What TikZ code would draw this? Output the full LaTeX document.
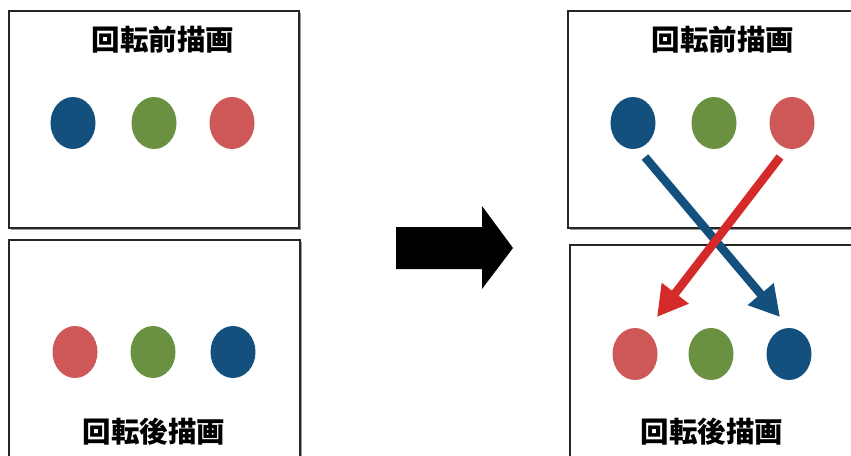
\documentclass[tikz,border=0pt]{standalone}
\usepackage{fontspec}
\usepackage{tikz}
\usepackage{xcolor}
\usetikzlibrary{positioning,arrows.meta,shapes,shadows}
\newfontfamily\cjk{Noto Sans CJK JP}

\definecolor{dotblue}{RGB}{19,80,126}
\definecolor{dotgreen}{RGB}{106,144,65}
\definecolor{dotred}{RGB}{206,87,87}
\definecolor{arrred}{RGB}{212,42,42}

\begin{document}
\begin{tikzpicture}[x=1pt, y=-1pt,
    panel/.style={rectangle, draw=black!85, line width=1.2pt, fill=white, inner sep=0pt,
      drop shadow={shadow xshift=2.2pt, shadow yshift=-2.2pt, fill=black!40, opacity=1}},
    dot/.style={ellipse, minimum width=45pt, minimum height=52pt, inner sep=0pt},
    caption/.style={font=\cjk\bfseries\fontsize{28.5}{31}\selectfont},
    swap/.style={line width=8.5pt, -{Triangle[width=32pt, length=30pt]}}]
        \useasboundingbox (0,0) rectangle (851,455);
        \clip (0,0) rectangle (851,455);

        % Draw the four panels
        \node[panel, minimum width=290pt, minimum height=217pt] (before) at (154,119.5) {};
        \node[panel, minimum width=291pt, minimum height=240pt] (after) at (154.5,360) {};
        \node[panel, minimum width=312pt, minimum height=217pt] (rbefore) at (724,119.5) {};
        \node[panel, minimum width=310pt, minimum height=235pt] (rafter) at (725,362.5) {};

        % Draw captions
        \node[caption] (t1) at (163,40) {回転前描画};
        \node[caption] (t2) at (154,432) {回転後描画};
        \node[caption] (t3) at (723,40) {回転前描画};
        \node[caption] (t4) at (712,432) {回転後描画};

        % Draw dots, left side
        \node[dot, fill=dotblue] (b1) at (73,123) {};
        \node[dot, fill=dotgreen] (g1) at (154,123) {};
        \node[dot, fill=dotred] (r1) at (232,123) {};
        \node[dot, fill=dotred] (r2) at (75,352) {};
        \node[dot, fill=dotgreen] (g2) at (153,352) {};
        \node[dot, fill=dotblue] (b2) at (233,352) {};

        % Draw dots, right side
        \node[dot, fill=dotblue] (b3) at (633,123) {};
        \node[dot, fill=dotgreen] (g3) at (714,123) {};
        \node[dot, fill=dotred] (r3) at (792,123) {};
        \node[dot, fill=dotred] (r4) at (635,354) {};
        \node[dot, fill=dotgreen] (g4) at (711,354) {};
        \node[dot, fill=dotblue] (b4) at (789,354) {};

        % Big arrow in the middle
        \fill[black] (396,227) -- (482,227) -- (482,206) -- (513,248) -- (482,289)
          -- (482,269) -- (396,269) -- cycle;

        % Draw swap arrows
        \coordinate (bstart) at (645,157);
        \coordinate (bend) at (780,317);
        \coordinate (rstart) at (780,157);
        \coordinate (rend) at (657,317);
        \draw[swap, dotblue] (bstart) -- (bend);
        \draw[swap, arrred] (rstart) -- (rend);
      \end{tikzpicture}
\end{document}
